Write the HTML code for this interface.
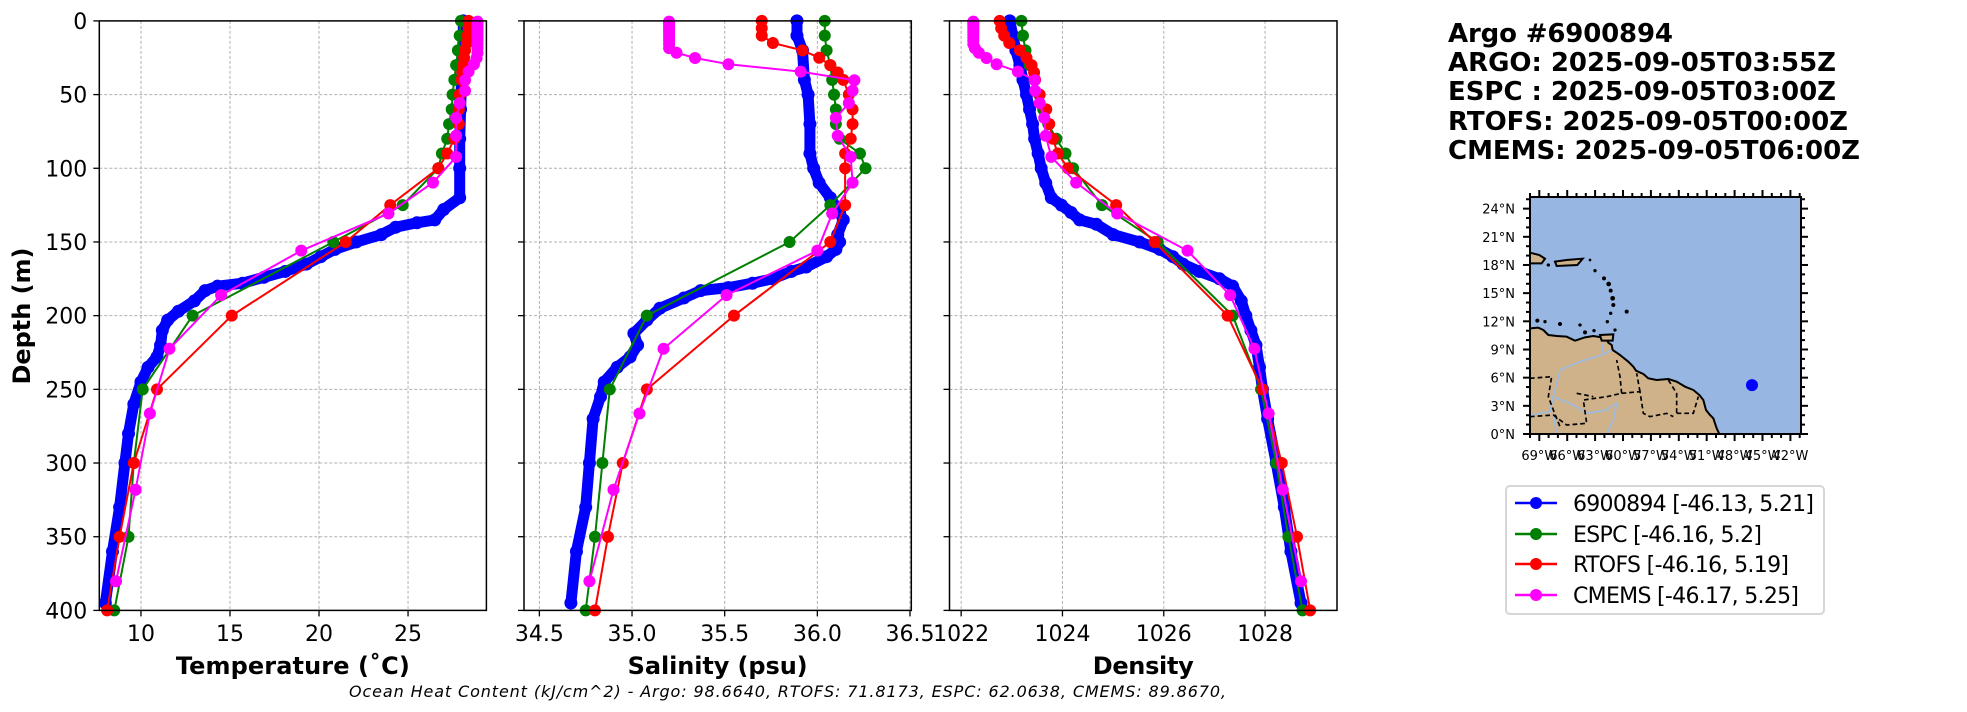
<!DOCTYPE html>
<html><head><meta charset="utf-8"><style>
html,body{margin:0;padding:0;background:#fff;}
svg{display:block;font-family:"DejaVu Sans","Liberation Sans",sans-serif;}
</style></head><body>
<svg id="chart" width="1967" height="712" viewBox="0 0 1967 712" xmlns="http://www.w3.org/2000/svg">
<g id="panels"></g>

<text x="1448" y="42" font-size="26" font-weight="bold" textLength="225">Argo #6900894</text>
<text x="1448" y="71" font-size="26" font-weight="bold" textLength="388">ARGO: 2025-09-05T03:55Z</text>
<text x="1448" y="100" font-size="26" font-weight="bold" textLength="388">ESPC : 2025-09-05T03:00Z</text>
<text x="1448" y="130" font-size="26" font-weight="bold" textLength="400">RTOFS: 2025-09-05T00:00Z</text>
<text x="1448" y="159" font-size="26" font-weight="bold" textLength="412">CMEMS: 2025-09-05T06:00Z</text>

<g id="map">
 <g transform="translate(1420,0) scale(0.33333)">
  <rect x="330" y="591" width="813" height="711" fill="#97b6e1"/>
  <polygon fill="#cfb28a" stroke="#000" stroke-width="6" stroke-linejoin="round"
   points="330,985 355,983 370,990 385,1005 410,1008 440,1010 465,1022 495,1012 520,1008 545,1012 560,1020 565,1028 575,1035 578,1050 590,1058 600,1065 625,1085 640,1100 648,1112 670,1122 685,1135 710,1140 745,1137 770,1145 795,1160 820,1170 838,1185 850,1200 858,1230 870,1245 880,1255 890,1285 898,1302 330,1302"/>
  <polygon fill="#cfb28a" stroke="#000" stroke-width="6" points="330,758 358,765 375,776 365,790 330,790"/>
  <polygon fill="#cfb28a" stroke="#000" stroke-width="6" points="405,785 440,780 488,776 472,795 410,798"/>
  <polygon fill="#cfb28a" stroke="#000" stroke-width="6" points="540,1005 580,1003 578,1022 545,1022"/>
  <g fill="#000">
   <circle cx="385" cy="795" r="5"/><circle cx="510" cy="780" r="4"/><circle cx="525" cy="812" r="5"/><circle cx="552" cy="835" r="6"/><circle cx="566" cy="852" r="7"/><circle cx="572" cy="872" r="6"/><circle cx="578" cy="895" r="7"/><circle cx="580" cy="915" r="6"/><circle cx="572" cy="940" r="5"/><circle cx="562" cy="965" r="5"/><circle cx="620" cy="935" r="6"/><circle cx="352" cy="962" r="6"/><circle cx="375" cy="965" r="5"/><circle cx="420" cy="972" r="6"/><circle cx="480" cy="975" r="5"/><circle cx="495" cy="997" r="6"/><circle cx="522" cy="992" r="5"/><circle cx="585" cy="990" r="5"/>
  </g>
  <g fill="none" stroke="#9dbbe0" stroke-width="5">
   <path d="M330,1245 L390,1235 L400,1190 L420,1110 L480,1085 L545,1065 L575,1050"/>
   <path d="M400,1190 L460,1215 L500,1240 L560,1230 L590,1210 L580,1260 L560,1302"/>
   <path d="M400,1240 L410,1302"/>
   <path d="M545,1030 L550,1060"/>
  </g>
  <g fill="none" stroke="#000" stroke-width="5" stroke-dasharray="14,9">
   <path d="M330,1135 L395,1130 L385,1190 L400,1230 L420,1280"/>
   <path d="M330,1250 L400,1245 L440,1275 L500,1270 L490,1200 L560,1190 L605,1180 L600,1130 L590,1080"/>
   <path d="M605,1180 L660,1175 L670,1240 L690,1250 L740,1240 L760,1250"/>
   <path d="M660,1175 L650,1120"/>
   <path d="M745,1140 L770,1180 L770,1240"/>
   <path d="M770,1240 L820,1240 L835,1190"/>
   <path d="M470,1180 L520,1190"/>
  </g>
  <rect x="330" y="591" width="813" height="711" fill="none" stroke="#000" stroke-width="6"/>
 </g>
 <g id="mapticks"></g>
 <circle id="mapdot" r="6" fill="#0000ff"/>
</g>

<g>
 <rect x="1506" y="486" width="318" height="128" rx="4" fill="#fff" stroke="#d6d6d6" stroke-width="2"/>
 <g><line x1="1515" y1="503" x2="1557" y2="503" stroke="#0000ff" stroke-width="2.5"/><circle cx="1536" cy="503" r="6" fill="#0000ff"/><text x="1573" y="511" font-size="22" textLength="241">6900894 [-46.13, 5.21]</text></g>
 <g><line x1="1515" y1="534" x2="1557" y2="534" stroke="#008000" stroke-width="2.5"/><circle cx="1536" cy="534" r="6" fill="#008000"/><text x="1573" y="542" font-size="22" textLength="189">ESPC [-46.16, 5.2]</text></g>
 <g><line x1="1515" y1="564" x2="1557" y2="564" stroke="#ff0000" stroke-width="2.5"/><circle cx="1536" cy="564" r="6" fill="#ff0000"/><text x="1573" y="572" font-size="22" textLength="216">RTOFS [-46.16, 5.19]</text></g>
 <g><line x1="1515" y1="595" x2="1557" y2="595" stroke="#ff00ff" stroke-width="2.5"/><circle cx="1536" cy="595" r="6" fill="#ff00ff"/><text x="1573" y="603" font-size="22" textLength="226">CMEMS [-46.17, 5.25]</text></g>
</g>

<text x="349" y="697" font-size="16" font-style="italic" textLength="877">Ocean Heat Content (kJ/cm^2) - Argo: 98.6640,  RTOFS: 71.8173,  ESPC: 62.0638,  CMEMS: 89.8670,</text>
</svg>

<script>
// ---- data ----
const argoTempDepth = [0,10,20,40,60,80,100,120,128,135,137,140,145,150,155,160,165,170,174,178,180,183,190,197,203,210,220,228,235,245,260,280,300,330,360,395];
const argoTemp = [28.1,28.1,28.05,28.0,27.95,27.9,27.9,27.9,27.0,26.5,25.5,24.3,23.5,22.1,20.9,20.1,19.3,18.1,16.9,15.7,14.3,13.6,13.0,12.1,11.5,11.2,11.1,10.9,10.4,10.0,9.6,9.3,9.1,8.8,8.4,8.0];
const argoSalDepth = [0,10,20,40,50,70,90,100,110,120,130,135,145,150,155,160,167,170,175,178,181,183,188,195,203,212,220,228,235,245,255,270,300,330,360,395];
const argoSal = [35.89,35.89,35.92,35.93,35.95,35.96,35.96,35.98,36.01,36.07,36.12,36.14,36.11,36.12,36.10,36.05,35.94,35.86,35.76,35.65,35.52,35.37,35.28,35.15,35.08,35.01,35.03,34.99,34.92,34.85,34.83,34.79,34.77,34.75,34.70,34.67];
const argoDenDepth = [0,10,20,30,40,50,60,70,80,90,100,110,120,125,130,135,138,145,150,155,160,165,170,175,180,190,200,210,220,235,250,270,300,330,360,395];
const argoDen = [1022.96,1023.02,1023.08,1023.16,1023.22,1023.29,1023.35,1023.41,1023.45,1023.52,1023.58,1023.67,1023.78,1023.98,1024.17,1024.34,1024.67,1025.00,1025.52,1025.92,1026.18,1026.38,1026.70,1027.10,1027.36,1027.53,1027.62,1027.72,1027.82,1027.89,1027.95,1028.05,1028.22,1028.38,1028.51,1028.71];

const espcDepth = [0,10,20,30,40,50,60,70,80,90,100,125,150,200,250,300,350,400];
const espcTemp = [27.97,27.9,27.8,27.7,27.6,27.5,27.45,27.3,27.2,26.9,26.7,24.7,20.8,12.9,10.1,9.6,9.3,8.5];
const espcSal = [36.04,36.04,36.05,36.07,36.08,36.09,36.10,36.10,36.12,36.23,36.26,36.07,35.85,35.08,34.88,34.84,34.80,34.75];
const espcDen = [1023.19,1023.22,1023.27,1023.35,1023.45,1023.54,1023.62,1023.72,1023.88,1024.06,1024.21,1024.78,1025.88,1027.36,1027.92,1028.22,1028.46,1028.74];

const rtofsDepth = [0,5,10,15,20,25,30,35,40,50,60,70,80,90,100,125,150,200,250,300,350,400];
const rtofsTemp = [28.4,28.4,28.35,28.3,28.2,28.15,28.1,28.05,28.0,27.9,27.85,27.85,27.6,27.2,26.7,24.0,21.5,15.1,10.9,9.6,8.8,8.1];
const rtofsSal = [35.70,35.70,35.70,35.76,35.92,36.01,36.07,36.11,36.14,36.17,36.19,36.19,36.18,36.15,36.15,36.15,36.07,35.55,35.08,34.95,34.87,34.80];
const rtofsDen = [1022.76,1022.79,1022.85,1022.95,1023.16,1023.29,1023.39,1023.44,1023.46,1023.55,1023.68,1023.74,1023.81,1023.91,1024.11,1025.06,1025.82,1027.26,1027.95,1028.33,1028.63,1028.89];

const cmemsDepth = [0.5,1.5,2.6,3.8,5.1,6.4,7.9,9.6,11.4,13.5,15.8,18.5,21.6,25.2,29.4,34.4,40.3,47.4,55.8,65.8,77.9,92.3,109.7,130.7,155.9,186.1,222.5,266.4,318.1,380.2];
const cmemsTemp = [28.9,28.9,28.9,28.9,28.9,28.9,28.9,28.9,28.9,28.9,28.9,28.9,28.9,28.85,28.7,28.4,28.2,28.2,27.9,27.7,27.7,27.7,26.4,23.9,19.0,14.5,11.6,10.5,9.7,8.6];
const cmemsSal = [35.20,35.20,35.20,35.20,35.20,35.20,35.20,35.20,35.20,35.20,35.20,35.20,35.24,35.34,35.52,35.91,36.20,36.19,36.17,36.10,36.11,36.18,36.19,36.08,36.00,35.51,35.17,35.04,34.90,34.77];
const cmemsDen = [1022.24,1022.24,1022.24,1022.24,1022.24,1022.24,1022.24,1022.24,1022.24,1022.24,1022.24,1022.27,1022.35,1022.50,1022.70,1023.12,1023.45,1023.46,1023.55,1023.64,1023.67,1023.78,1024.27,1025.08,1026.47,1027.31,1027.79,1028.07,1028.35,1028.71];

const depthTicks = [0,50,100,150,200,250,300,350,400];
const tempTicks = [10,15,20,25];
const tempTickLabels = ["10","15","20","25"];
const salTicks = [34.5,35.0,35.5,36.0,36.5];
const salTickLabels = ["34.5","35.0","35.5","36.0","36.5"];
const denTicks = [1022,1024,1026,1028];
const denTickLabels = ["1022","1024","1026","1028"];
const floatLon = -46.13, floatLat = 5.21;
const latTicks = [0,3,6,9,12,15,18,21,24];
const lonTicks = [-69,-66,-63,-60,-57,-54,-51,-48,-45,-42];

// ---- drawing ----
const NS = "http://www.w3.org/2000/svg";
function mk(tag, attrs, parent){const e=document.createElementNS(NS,tag);for(const k in attrs)e.setAttribute(k,attrs[k]);parent.appendChild(e);return e;}
const root = document.getElementById('panels');
const Y0 = 20.9, Y1 = 610.4;
const yScale = d => Y0 + (d/400)*(Y1-Y0);

const panels = [
 {name:'temperature', x0:99.3, x1:486.4, dom:[7.66,29.4], ticks:tempTicks, labels:tempTickLabels, title:'Temperature (˚C)', tw:234,
  series:[[argoTempDepth,argoTemp],[espcDepth,espcTemp],[rtofsDepth,rtofsTemp],[cmemsDepth,cmemsTemp]], ylab:true},
 {name:'salinity', x0:524, x1:911.3, dom:[34.417,36.507], ticks:salTicks, labels:salTickLabels, title:'Salinity (psu)', tw:180,
  series:[[argoSalDepth,argoSal],[espcDepth,espcSal],[rtofsDepth,rtofsSal],[cmemsDepth,cmemsSal]], ylab:false},
 {name:'density', x0:949.5, x1:1337, dom:[1021.77,1029.42], ticks:denTicks, labels:denTickLabels, title:'Density', tw:101,
  series:[[argoDenDepth,argoDen],[espcDepth,espcDen],[rtofsDepth,rtofsDen],[cmemsDepth,cmemsDen]], ylab:false}
];
const colors = ['#0000ff','#008000','#ff0000','#ff00ff'];
const snames = ['argo','espc','rtofs','cmems'];

panels.forEach(p=>{
  const g = mk('g',{},root);
  
  
  const xs = v => p.x0 + (v-p.dom[0])/(p.dom[1]-p.dom[0])*(p.x1-p.x0);
  depthTicks.forEach(d=>{
    const l = mk('line',{x1:p.x0,x2:p.x1,y1:yScale(d),y2:yScale(d),stroke:'#b0b0b0','stroke-width':1,'stroke-dasharray':'3,2'},g);
    
    
    const t = mk('line',{x1:p.x0-6,x2:p.x0,y1:yScale(d),y2:yScale(d),stroke:'#000','stroke-width':1.3},g);
    
    
    if(p.ylab){
      const tx = mk('text',{x:p.x0-12,y:yScale(d)+8,'font-size':22,'text-anchor':'end'},g);
      tx.textContent = String(d);
      
      
    }
  });
  p.ticks.forEach((v,i)=>{
    const x = xs(v);
    const l = mk('line',{x1:x,x2:x,y1:Y0,y2:Y1,stroke:'#b0b0b0','stroke-width':1,'stroke-dasharray':'3,2'},g);
    
    
    const t = mk('line',{x1:x,x2:x,y1:Y1,y2:Y1+6,stroke:'#000','stroke-width':1.3},g);
    
    
    const tx = mk('text',{x:x,y:641,'font-size':22,'text-anchor':'middle'},g);
    tx.textContent = p.labels[i];
    
    
  });
  p.series.forEach((s,si)=>{
    const sg = mk('g',{},g);
    
    
    const pts = s[0].map((d,i)=>xs(s[1][i]).toFixed(1)+','+yScale(d).toFixed(1)).join(' ');
    const line = mk('polyline',{points:pts,fill:'none',stroke:colors[si],'stroke-width':si===0?11:2,'stroke-linejoin':'round','stroke-linecap':'round'},sg);
    
    
    s[0].forEach((d,i)=>{
      const c = mk('circle',{cx:xs(s[1][i]),cy:yScale(d),r:si===0?6.5:6,fill:colors[si]},sg);
      
      
    });
  });
  const fr = mk('rect',{x:p.x0,y:Y0,width:p.x1-p.x0,height:Y1-Y0,fill:'none',stroke:'#000','stroke-width':1.5},g);
  
  
  const xt = mk('text',{x:(p.x0+p.x1)/2,y:674,'font-size':24,'font-weight':'bold','text-anchor':'middle',textLength:p.tw},g);
  xt.textContent = p.title;
  
  
  if(p.ylab){
    const yt = mk('text',{x:0,y:0,'font-size':24,'font-weight':'bold','text-anchor':'middle',textLength:137,transform:'translate(30,316) rotate(-90)'},g);
    yt.textContent = 'Depth (m)';
    
    
  }
});

const mt = document.getElementById('mapticks');
const MX0=1530, MX1=1801, MY0=197, MY1=434;
const lonX = lon => 1530 + (lon+70)*9.3;
const latY = lat => 434 - lat*9.39;
for(let lon=-70; lon<=-41; lon++){
  const major = (lon%3===0);
  const len = major?7:4;
  const x = lonX(lon);
  mk('line',{x1:x,x2:x,y1:MY1,y2:MY1+len,stroke:'#000','stroke-width':2},mt);
  mk('line',{x1:x,x2:x,y1:MY0,y2:MY0-len,stroke:'#000','stroke-width':2},mt);
}
for(let lat=0; lat<=25; lat++){
  const major = (lat%3===0);
  const len = major?7:4;
  const y = latY(lat);
  mk('line',{x1:MX0-len,x2:MX0,y1:y,y2:y,stroke:'#000','stroke-width':2},mt);
  mk('line',{x1:MX1,x2:MX1+len,y1:y,y2:y,stroke:'#000','stroke-width':2},mt);
}
latTicks.forEach(lat=>{
  const t = mk('text',{x:1515,y:latY(lat)+5,'font-size':13,'text-anchor':'end'},mt);
  t.textContent = lat+'°N';
  
  
});
lonTicks.forEach(lon=>{
  const t = mk('text',{x:lonX(lon),y:460,'font-size':13,'text-anchor':'middle'},mt);
  t.textContent = (-lon)+'°W';
  
  
});
const dot = document.getElementById('mapdot');
dot.setAttribute('cx', lonX(floatLon));
dot.setAttribute('cy', latY(floatLat));
</script>
</body></html>
